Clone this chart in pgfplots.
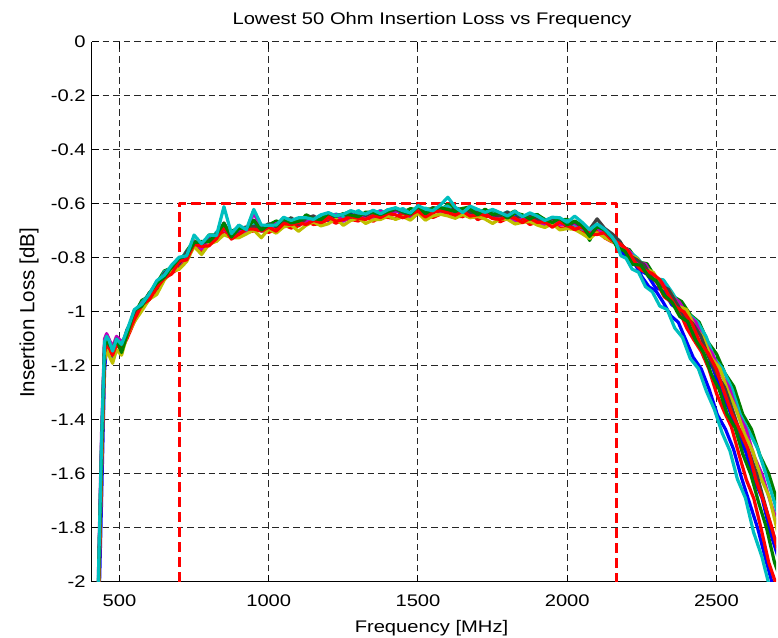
\documentclass[border=0pt]{standalone}
\usepackage{pgfplots}
\pgfplotsset{compat=1.18}
\usepackage{pgfplotstable}
\usepackage{fontspec}
\setmainfont{Liberation Sans}
\newfontfamily\stretchfont{Liberation Sans}[FakeStretch=1.2]
\newcommand\lbl{\stretchfont\fontsize{8.4}{10}\selectfont}
\definecolor{mb}{rgb}{0,0,1}
\definecolor{mg}{rgb}{0,0.5,0}
\definecolor{mr}{rgb}{1,0,0}
\definecolor{mc}{rgb}{0,0.75,0.75}
\definecolor{mm}{rgb}{0.75,0,0.75}
\definecolor{my}{rgb}{0.75,0.75,0}
\definecolor{mk}{rgb}{0.25,0.25,0.25}
\pgfplotstableread{
f s1 s2 s3 s4 s5 s6 s7 s8 s9 s10
420 -2.6 -2.6 -2.6 -2.6 -2.6 -2.6 -2.6 -2.6 -2.6 -2.6
430 -2.15 -2.0 -2.05 -1.98 -1.95 -2.05 -2.0 -2.03 -1.99 -1.96
440 -1.70 -1.50 -1.55 -1.50 -1.45 -1.58 -1.52 -1.56 -1.52 -1.48
450 -1.22 -1.13 -1.16 -1.12 -1.10 -1.18 -1.13 -1.15 -1.13 -1.11
457 -1.12 -1.10 -1.12 -1.095 -1.08 -1.14 -1.10 -1.11 -1.10 -1.09
465 -1.14 -1.12 -1.13 -1.11 -1.10 -1.16 -1.12 -1.13 -1.12 -1.105
477 -1.17 -1.15 -1.16 -1.14 -1.13 -1.19 -1.15 -1.16 -1.14 -1.145
490 -1.12 -1.10 -1.12 -1.10 -1.09 -1.14 -1.11 -1.12 -1.10 -1.10
507 -1.13 -1.15 -1.14 -1.12 -1.11 -1.16 -1.13 -1.14 -1.15 -1.12
525 -1.078 -1.070 -1.099 -1.078 -1.086 -1.088 -1.066 -1.087 -1.085 -1.069
550 -1.021 -1.008 -1.035 -1.015 -1.013 -1.036 -1.014 -1.028 -0.993 -0.991
575 -0.967 -0.957 -0.981 -0.965 -0.968 -0.995 -0.975 -0.974 -0.978 -0.971
600 -0.946 -0.942 -0.953 -0.933 -0.950 -0.953 -0.929 -0.954 -0.930 -0.933
625 -0.920 -0.893 -0.926 -0.913 -0.902 -0.935 -0.914 -0.910 -0.893 -0.884
650 -0.861 -0.848 -0.867 -0.851 -0.878 -0.882 -0.856 -0.875 -0.871 -0.864
675 -0.841 -0.837 -0.856 -0.840 -0.830 -0.849 -0.835 -0.859 -0.834 -0.826
700 -0.824 -0.818 -0.838 -0.812 -0.823 -0.842 -0.821 -0.812 -0.801 -0.797
725 -0.783 -0.774 -0.798 -0.777 -0.792 -0.813 -0.777 -0.807 -0.791 -0.792
750 -0.758 -0.736 -0.756 -0.749 -0.740 -0.757 -0.747 -0.749 -0.743 -0.715
775 -0.754 -0.754 -0.781 -0.746 -0.767 -0.787 -0.748 -0.757 -0.739 -0.747
800 -0.729 -0.715 -0.739 -0.742 -0.734 -0.749 -0.733 -0.755 -0.739 -0.715
825 -0.728 -0.714 -0.738 -0.704 -0.711 -0.738 -0.727 -0.728 -0.711 -0.717
850 -0.699 -0.686 -0.700 -0.687 -0.694 -0.714 -0.670 -0.685 -0.672 -0.610
875 -0.710 -0.701 -0.720 -0.711 -0.720 -0.725 -0.720 -0.730 -0.722 -0.710
900 -0.702 -0.689 -0.722 -0.689 -0.694 -0.725 -0.692 -0.712 -0.689 -0.678
925 -0.705 -0.699 -0.704 -0.701 -0.709 -0.711 -0.685 -0.693 -0.692 -0.695
950 -0.666 -0.625 -0.700 -0.668 -0.630 -0.696 -0.683 -0.693 -0.660 -0.620
975 -0.700 -0.691 -0.697 -0.680 -0.695 -0.725 -0.691 -0.700 -0.697 -0.678
1000 -0.697 -0.678 -0.705 -0.688 -0.696 -0.693 -0.673 -0.686 -0.677 -0.679
1025 -0.677 -0.663 -0.694 -0.679 -0.672 -0.708 -0.683 -0.701 -0.680 -0.678
1050 -0.670 -0.670 -0.677 -0.658 -0.677 -0.685 -0.670 -0.673 -0.653 -0.649
1075 -0.680 -0.652 -0.689 -0.673 -0.663 -0.678 -0.651 -0.676 -0.670 -0.661
1100 -0.663 -0.673 -0.681 -0.660 -0.673 -0.701 -0.676 -0.669 -0.664 -0.651
1125 -0.667 -0.640 -0.663 -0.654 -0.672 -0.679 -0.653 -0.676 -0.648 -0.651
1150 -0.659 -0.653 -0.676 -0.660 -0.645 -0.666 -0.644 -0.661 -0.654 -0.657
1175 -0.649 -0.647 -0.672 -0.641 -0.665 -0.681 -0.664 -0.669 -0.658 -0.640
1200 -0.661 -0.635 -0.656 -0.651 -0.647 -0.673 -0.641 -0.647 -0.634 -0.632
1225 -0.643 -0.647 -0.671 -0.637 -0.640 -0.654 -0.644 -0.664 -0.646 -0.644
1250 -0.664 -0.639 -0.658 -0.647 -0.663 -0.679 -0.637 -0.658 -0.636 -0.638
1275 -0.636 -0.626 -0.657 -0.651 -0.646 -0.661 -0.649 -0.647 -0.641 -0.625
1300 -0.649 -0.639 -0.663 -0.624 -0.633 -0.652 -0.634 -0.653 -0.647 -0.633
1325 -0.643 -0.635 -0.644 -0.644 -0.648 -0.672 -0.642 -0.657 -0.630 -0.637
1350 -0.641 -0.629 -0.664 -0.636 -0.650 -0.659 -0.630 -0.643 -0.632 -0.623
1375 -0.648 -0.639 -0.645 -0.624 -0.626 -0.657 -0.642 -0.650 -0.639 -0.636
1400 -0.635 -0.621 -0.650 -0.642 -0.646 -0.645 -0.631 -0.635 -0.628 -0.621
1425 -0.622 -0.620 -0.654 -0.625 -0.628 -0.657 -0.620 -0.640 -0.615 -0.614
1450 -0.640 -0.631 -0.632 -0.617 -0.624 -0.647 -0.631 -0.651 -0.628 -0.625
1475 -0.641 -0.617 -0.657 -0.637 -0.649 -0.660 -0.640 -0.639 -0.637 -0.633
1500 -0.620 -0.622 -0.634 -0.624 -0.621 -0.633 -0.611 -0.626 -0.608 -0.606
1525 -0.645 -0.618 -0.637 -0.615 -0.634 -0.660 -0.633 -0.648 -0.636 -0.619
1550 -0.622 -0.618 -0.650 -0.630 -0.617 -0.644 -0.613 -0.632 -0.616 -0.625
1575 -0.626 -0.627 -0.638 -0.617 -0.634 -0.638 -0.623 -0.624 -0.614 -0.604
1600 -0.632 -0.600 -0.625 -0.608 -0.619 -0.644 -0.629 -0.632 -0.620 -0.575
1625 -0.618 -0.625 -0.645 -0.633 -0.632 -0.653 -0.617 -0.641 -0.628 -0.612
1650 -0.638 -0.617 -0.647 -0.620 -0.620 -0.639 -0.619 -0.627 -0.616 -0.632
1675 -0.624 -0.610 -0.628 -0.623 -0.637 -0.651 -0.631 -0.645 -0.619 -0.608
1700 -0.639 -0.638 -0.658 -0.621 -0.636 -0.646 -0.630 -0.640 -0.640 -0.620
1725 -0.648 -0.626 -0.645 -0.638 -0.630 -0.656 -0.622 -0.638 -0.619 -0.631
1750 -0.631 -0.623 -0.646 -0.633 -0.646 -0.672 -0.640 -0.654 -0.639 -0.620
1775 -0.651 -0.638 -0.666 -0.641 -0.650 -0.655 -0.644 -0.657 -0.632 -0.632
1800 -0.643 -0.640 -0.653 -0.629 -0.636 -0.657 -0.630 -0.645 -0.652 -0.644
1825 -0.641 -0.626 -0.661 -0.651 -0.668 -0.674 -0.653 -0.653 -0.633 -0.627
1850 -0.664 -0.651 -0.654 -0.645 -0.643 -0.668 -0.643 -0.669 -0.640 -0.647
1875 -0.657 -0.643 -0.676 -0.644 -0.658 -0.665 -0.646 -0.653 -0.656 -0.633
1900 -0.649 -0.639 -0.666 -0.655 -0.669 -0.678 -0.657 -0.668 -0.640 -0.645
1925 -0.669 -0.664 -0.679 -0.664 -0.682 -0.687 -0.665 -0.666 -0.657 -0.661
1950 -0.671 -0.651 -0.667 -0.650 -0.659 -0.673 -0.653 -0.686 -0.669 -0.649
1975 -0.657 -0.659 -0.689 -0.667 -0.676 -0.696 -0.661 -0.667 -0.652 -0.651
2000 -0.687 -0.657 -0.688 -0.662 -0.675 -0.691 -0.682 -0.679 -0.677 -0.668
2025 -0.679 -0.679 -0.687 -0.677 -0.672 -0.694 -0.666 -0.695 -0.663 -0.645
2050 -0.680 -0.674 -0.703 -0.693 -0.690 -0.710 -0.686 -0.684 -0.680 -0.668
2075 -0.715 -0.735 -0.722 -0.691 -0.709 -0.728 -0.694 -0.711 -0.720 -0.695
2100 -0.692 -0.675 -0.698 -0.683 -0.685 -0.706 -0.655 -0.713 -0.684 -0.674
2125 -0.710 -0.707 -0.725 -0.710 -0.718 -0.724 -0.690 -0.706 -0.696 -0.693
2150 -0.73 -0.72 -0.74 -0.72 -0.725 -0.738 -0.71 -0.735 -0.725 -0.722
}\pass
\begin{document}
\begin{tikzpicture}
\useasboundingbox (-46pt,-28pt) rectangle (343pt,291pt);
\begin{axis}[
  at={(0,0)}, anchor=south west, scale only axis,
  width=342.1pt, height=270pt,
  xmin=408, xmax=2700, ymin=-2, ymax=0,
  axis x line*=bottom, axis y line*=left,
  axis line style={-, black, line width=0.5pt},
  xtick={500,1000,1500,2000,2500},
  xticklabels={500,1000,1500,2000,2500},
  ytick={-2,-1.8,-1.6,-1.4,-1.2,-1,-0.8,-0.6,-0.4,-0.2,0},
  yticklabels={-2,-1.8,-1.6,-1.4,-1.2,-1,-0.8,-0.6,-0.4,-0.2,0},
  tick align=inside, major tick length=3.4pt,
  tick style={black, line width=0.5pt},
  ticklabel style={font=\lbl},
  xticklabel style={anchor=base, yshift=-12.5pt},
  yticklabel style={anchor=east, inner sep=0pt, xshift=-3pt},
  grid=major,
  major grid style={black!85, line width=0.5pt, dash pattern=on 3.3pt off 2pt},
  every axis plot/.append style={line width=1.6pt, line join=round, line cap=round},
]
\addplot[mr, line width=1.5pt, line cap=butt, dash pattern=on 5pt off 2.5pt] coordinates {(700,-2) (700,-0.6) (2166,-0.6) (2166,-2)};
% S1 blue
\addplot[mb] table[x=f,y=s1]{\pass};
\addplot[mb] coordinates {(2150,-0.73) (2167,-0.742) (2185,-0.786) (2212.5,-0.798) (2240,-0.844) (2267.5,-0.86) (2295,-0.909) (2322.5,-0.921) (2350,-0.973) (2377.5,-0.994) (2405,-1.058) (2432.5,-1.094) (2460,-1.172) (2487.5,-1.206) (2515,-1.295) (2542.5,-1.361) (2570,-1.451) (2597.5,-1.517) (2625,-1.619) (2652.5,-1.688) (2680,-1.816) (2707.5,-1.912) (2735,-2.025)};
\addplot[mb] coordinates {(2150,-0.73) (2170,-0.744) (2188,-0.789) (2207,-0.807) (2228,-0.824) (2251,-0.871) (2274,-0.907) (2297,-0.922) (2322,-0.965) (2347,-1.014) (2372,-1.038) (2397,-1.103) (2422,-1.168) (2449,-1.211) (2476,-1.288) (2503,-1.381) (2530,-1.434) (2557,-1.508) (2584,-1.615) (2611,-1.708) (2638,-1.801) (2665,-1.917) (2692,-2.026)};
% S2 green
\addplot[mg] table[x=f,y=s2]{\pass};
\addplot[mg] coordinates {(2150,-0.72) (2179,-0.759) (2208,-0.769) (2238,-0.815) (2267,-0.821) (2296,-0.873) (2325,-0.892) (2354,-0.942) (2383,-0.961) (2413,-1.011) (2442,-1.038) (2471,-1.111) (2500,-1.155) (2529,-1.228) (2558,-1.276) (2588,-1.379) (2617,-1.434) (2646,-1.532) (2675,-1.599) (2704,-1.703) (2733,-1.801)};
% S3 red
\addplot[mr] table[x=f,y=s3]{\pass};
\addplot[mr] coordinates {(2150,-0.74) (2175,-0.747) (2200,-0.768) (2225,-0.818) (2250,-0.846) (2275,-0.856) (2300,-0.89) (2325,-0.944) (2350,-0.964) (2375,-0.994) (2400,-1.059) (2425,-1.105) (2450,-1.148) (2475,-1.212) (2500,-1.302) (2525,-1.367) (2550,-1.426) (2575,-1.526) (2600,-1.621) (2625,-1.691) (2650,-1.805) (2675,-1.928) (2700,-2.009)};
% S4 cyan
\addplot[mc] table[x=f,y=s4]{\pass};
\addplot[mc] coordinates {(2150,-0.72) (2179,-0.762) (2207,-0.775) (2236,-0.801) (2265,-0.841) (2293,-0.876) (2322,-0.881) (2351,-0.927) (2379,-0.978) (2408,-1.01) (2437,-1.038) (2465,-1.091) (2494,-1.174) (2523,-1.214) (2552,-1.285) (2580,-1.381) (2609,-1.443) (2638,-1.506) (2666,-1.602) (2695,-1.709) (2724,-1.822)};
% S5 magenta
\addplot[mm] table[x=f,y=s5]{\pass};
\addplot[mm] coordinates {(2150,-0.725) (2178,-0.755) (2206,-0.772) (2234,-0.816) (2262,-0.823) (2290,-0.874) (2318,-0.892) (2346,-0.941) (2374,-0.961) (2402,-1.01) (2430,-1.036) (2458,-1.112) (2486,-1.154) (2514,-1.228) (2542,-1.279) (2570,-1.373) (2598,-1.431) (2626,-1.534) (2654,-1.605) (2682,-1.709) (2710,-1.798)};
% S6 yellow
\addplot[my] table[x=f,y=s6]{\pass};
\addplot[my] coordinates {(2150,-0.738) (2178,-0.744) (2206,-0.788) (2233,-0.801) (2261,-0.838) (2289,-0.854) (2317,-0.907) (2344,-0.924) (2372,-0.979) (2400,-0.991) (2428,-1.058) (2455,-1.095) (2483,-1.171) (2511,-1.208) (2539,-1.296) (2566,-1.361) (2594,-1.452) (2622,-1.517) (2650,-1.618) (2677,-1.686) (2705,-1.815)};
% S7 dark gray
\addplot[mk] table[x=f,y=s7]{\pass};
\addplot[mk] coordinates {(2150,-0.71) (2177,-0.739) (2204,-0.788) (2231,-0.805) (2258,-0.826) (2285,-0.876) (2312,-0.901) (2339,-0.916) (2366,-0.967) (2393,-1.017) (2420,-1.042) (2447,-1.088) (2473,-1.165) (2500,-1.229) (2527,-1.279) (2554,-1.364) (2581,-1.454) (2608,-1.515) (2635,-1.601) (2662,-1.711) (2689,-1.818) (2716,-1.908)};
% S8 red 2
\addplot[mr] table[x=f,y=s8]{\pass};
\addplot[mr] coordinates {(2150,-0.735) (2177,-0.747) (2204,-0.774) (2230,-0.822) (2257,-0.844) (2284,-0.857) (2311,-0.881) (2337,-0.933) (2364,-0.981) (2391,-1.0) (2418,-1.044) (2445,-1.114) (2471,-1.151) (2498,-1.208) (2525,-1.295) (2552,-1.378) (2578,-1.437) (2605,-1.506) (2632,-1.621) (2659,-1.706) (2686,-1.801) (2712,-1.915)};
% S9 green 2
\addplot[mg] table[x=f,y=s9]{\pass};
\addplot[mg] coordinates {(2150,-0.725) (2166,-0.759) (2193,-0.775) (2219,-0.824) (2246,-0.826) (2272,-0.868) (2298,-0.884) (2325,-0.938) (2351,-0.964) (2377,-1.017) (2404,-1.036) (2430,-1.105) (2457,-1.151) (2483,-1.231) (2509,-1.287) (2536,-1.379) (2562,-1.428) (2588,-1.526) (2615,-1.602) (2641,-1.705) (2668,-1.802) (2694,-1.926) (2720,-2.008)};
% S10 cyan 2
\addplot[mc] table[x=f,y=s10]{\pass};
\addplot[mc] coordinates {(2150,-0.722) (2165,-0.747) (2180,-0.792) (2197,-0.801) (2217,-0.841) (2239,-0.853) (2262,-0.906) (2285,-0.925) (2310,-0.978) (2335,-0.991) (2360,-1.059) (2386,-1.094) (2412,-1.172) (2439,-1.209) (2466,-1.293) (2493,-1.361) (2519,-1.448) (2545,-1.514) (2570,-1.619) (2597,-1.689) (2624,-1.815) (2652,-1.906) (2680,-2.028)};
\pgfplotsinvokeforeach{500,1000,1500,2000,2500}{
  \draw[black, line width=0.5pt] (axis cs:#1,0) -- ([yshift=-3.4pt]axis cs:#1,0);
}
\end{axis}
\node[anchor=base, font=\lbl] at (170pt,278.5pt) {Lowest 50 Ohm Insertion Loss vs Frequency};
\node[anchor=base, font=\lbl] at (169.75pt,-25.5pt) {Frequency [MHz]};
\node[rotate=90, anchor=base, font=\fontsize{10.25}{12}\selectfont] at (-28.75pt,134.5pt) {Insertion Loss [dB]};
\end{tikzpicture}
\end{document}
